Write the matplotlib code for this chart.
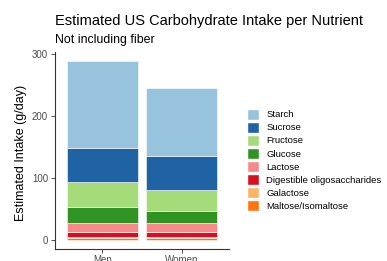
import numpy as np
import matplotlib
matplotlib.use("Agg")
import matplotlib.pyplot as plt
from matplotlib.patches import Patch

plt.rcParams['font.family'] = ['Liberation Sans', 'DejaVu Sans']

# data (g/day)
groups = ["Men", "Women"]
nutrients = ["Starch", "Sucrose", "Fructose", "Glucose", "Lactose",
             "Digestible oligosaccharides", "Galactose", "Maltose/Isomaltose"]
men = [140.5, 55.0, 40.5, 24.5, 14.5, 8.5, 2.5, 2.5]
women = [109.5, 55.5, 33.0, 19.5, 14.5, 8.5, 2.5, 2.5]
colors = ["#97c3dc", "#1f63a5", "#a6db7a", "#2f9424", "#f7898a",
          "#db0e20", "#fbb466", "#ff7410"]

fig = plt.figure(figsize=(3.87, 2.61), dpi=100)
ax = fig.add_axes([55/387, 12/261, 174/387, 197/261])

x = np.arange(len(groups))
vals = np.array([men, women])
bottom = np.zeros(len(groups))
# stack from the bottom (last nutrient) up
for i in range(len(nutrients) - 1, -1, -1):
    ax.bar(x, vals[:, i], width=0.9, bottom=bottom, color=colors[i],
           edgecolor="white", linewidth=0.4)
    bottom += vals[:, i]

top = bottom.max()
ax.set_xlim(-0.6, 1.6)
ax.set_ylim(-0.05 * top, top * 1.05)
ax.set_xticks(x)
ax.set_xticklabels(groups)
ax.set_yticks([0, 100, 200, 300])
ax.tick_params(labelsize=7, colors="#333333", labelcolor="#4d4d4d", length=3, width=0.6)
ax.tick_params(axis="x", pad=1.5)
ax.tick_params(axis="y", pad=2)
for s in ["top", "right"]:
    ax.spines[s].set_visible(False)
for s in ["left", "bottom"]:
    ax.spines[s].set_linewidth(0.8)
    ax.spines[s].set_color("#333333")
ax.set_ylabel("Estimated Intake (g/day)", fontsize=9)
ax.yaxis.set_label_coords(-0.16, 0.49)

fig.text(55/387, 1 - 21.5/261, "Estimated US Carbohydrate Intake per Nutrient",
         fontsize=10.5, va="center", ha="left")
fig.text(55/387, 1 - 40/261, "Not including fiber", fontsize=8.9, va="center", ha="left")

handles = [Patch(facecolor=c, edgecolor="white") for c in colors]
fig.legend(handles, nutrients, loc="center left", bbox_to_anchor=(243/387, 1 - 160/261),
           frameon=False, fontsize=6.8, handlelength=1.3, handleheight=1.45,
           handletextpad=0.75, labelspacing=0.2, borderaxespad=0)

fig.savefig("out.png", dpi=100)
